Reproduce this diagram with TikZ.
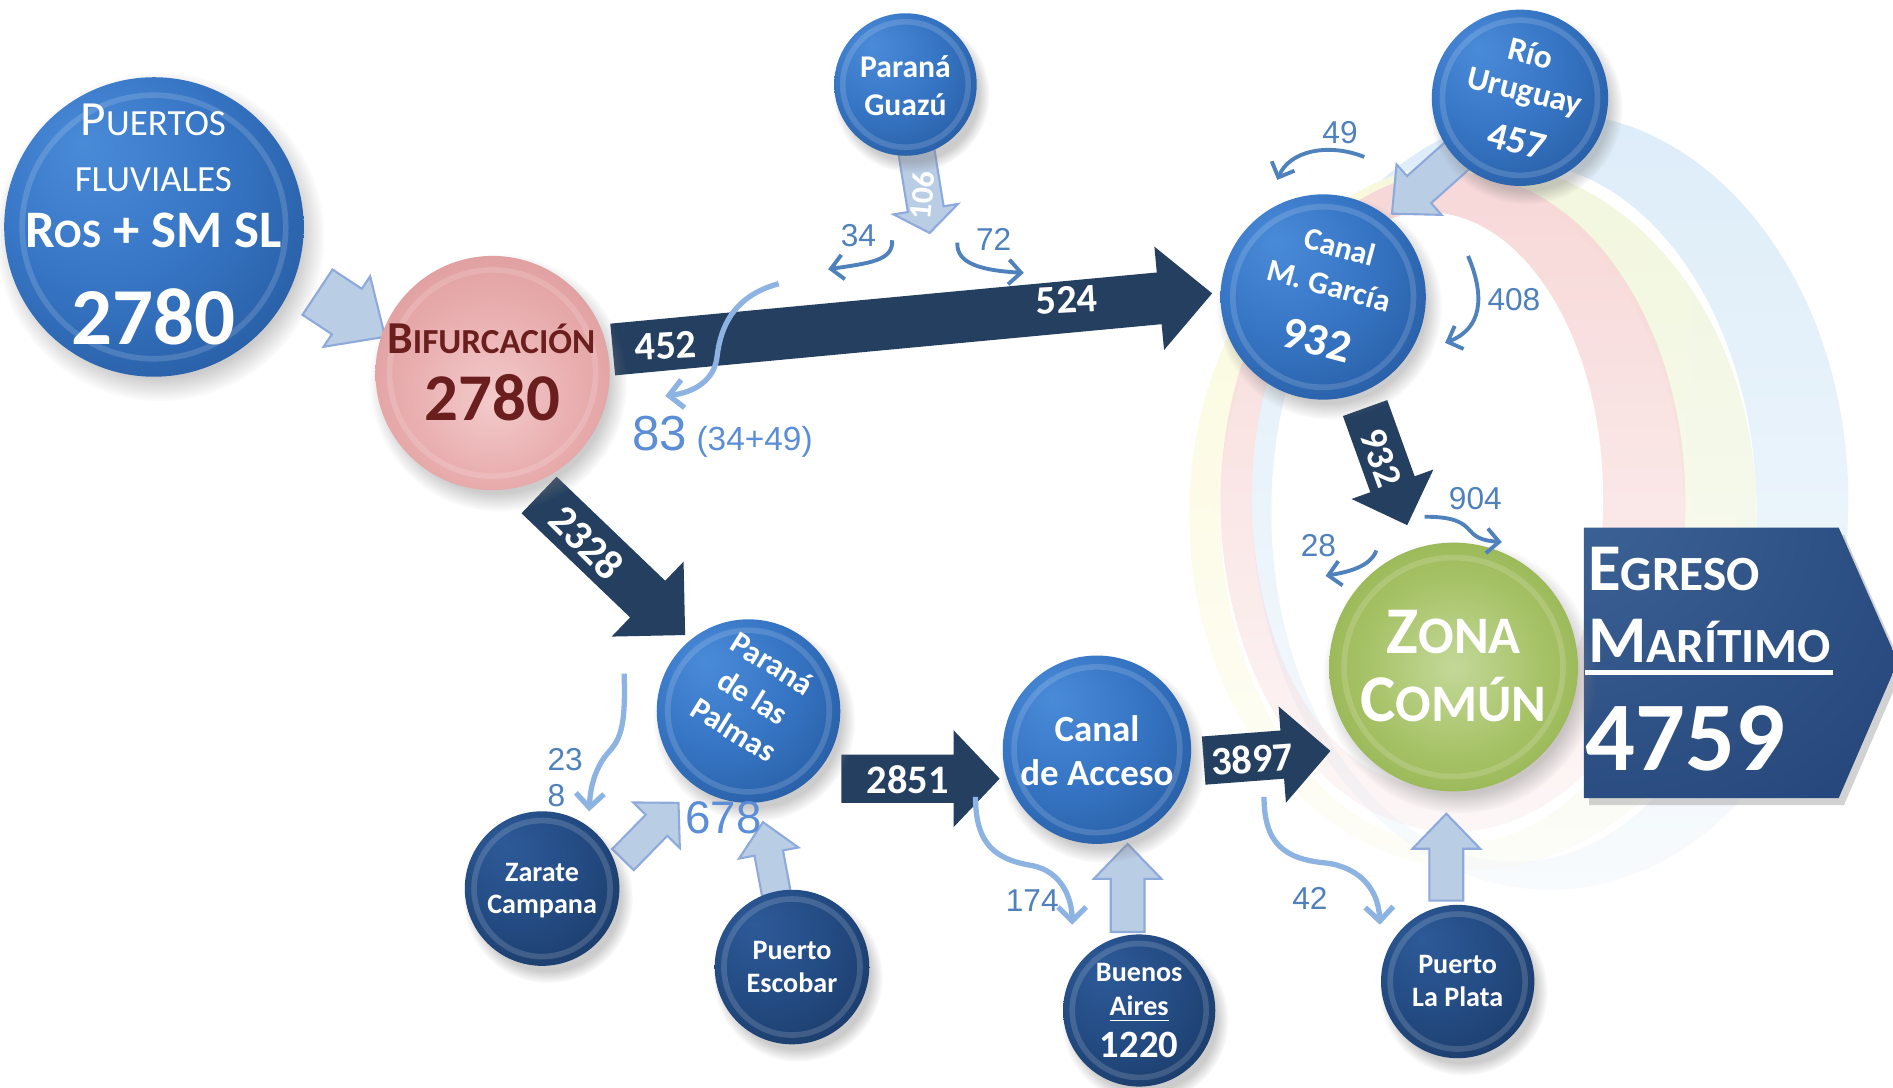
\documentclass[tikz,border=0pt]{standalone}
\usepackage{fontspec}
\setmainfont{Carlito}
\newfontfamily\arialf{Liberation Sans}
\usetikzlibrary{calc,shadows,arrows.meta,fadings}
\definecolor{navy}{HTML}{243F60}
\definecolor{lbfill}{HTML}{B9CDE5}
\definecolor{lbedge}{HTML}{8EAADB}
\definecolor{lbl}{HTML}{4F81BD}
\definecolor{lbl2}{HTML}{8DB3E2}
\definecolor{lbl3}{HTML}{5B8ED6}
\definecolor{maroon}{HTML}{6B1E1E}
\definecolor{ringblue}{HTML}{DDEDF9}
\definecolor{ringgreen}{HTML}{EFF6DF}
\definecolor{ringyellow}{HTML}{FCFADB}
\definecolor{ringpink}{HTML}{F8D8D8}
\definecolor{mb1}{HTML}{4A8BD8}\definecolor{mb2}{HTML}{3675C4}\definecolor{mb3}{HTML}{275CA2}\definecolor{mb4}{HTML}{1B4279}\definecolor{mb5}{HTML}{122B52}
\definecolor{db1}{HTML}{2D5A98}\definecolor{db2}{HTML}{244C84}\definecolor{db3}{HTML}{1B3B68}\definecolor{db4}{HTML}{122A4D}\definecolor{db5}{HTML}{0D1E3A}
\definecolor{pk1}{HTML}{F3CACA}\definecolor{pk2}{HTML}{E9AEAF}\definecolor{pk3}{HTML}{DB9697}\definecolor{pk4}{HTML}{C97D7F}\definecolor{pk5}{HTML}{9E5052}
\definecolor{gr1}{HTML}{C3D898}\definecolor{gr2}{HTML}{A6C266}\definecolor{gr3}{HTML}{8FAE4A}\definecolor{gr4}{HTML}{789536}\definecolor{gr5}{HTML}{5A7522}
\definecolor{eg1}{HTML}{42699C}\definecolor{eg2}{HTML}{25467A}\definecolor{eg3}{HTML}{152C4F}
\pgfdeclareradialshading{sphMB}{\pgfpoint{-12bp}{14bp}}{color(0bp)=(mb1); color(20bp)=(mb2); color(38bp)=(mb3); color(56bp)=(mb4); color(70bp)=(mb5)}
\pgfdeclareradialshading{sphDB}{\pgfpoint{-12bp}{14bp}}{color(0bp)=(db1); color(20bp)=(db2); color(38bp)=(db3); color(56bp)=(db4); color(70bp)=(db5)}
\pgfdeclareradialshading{sphPK}{\pgfpoint{0bp}{-6bp}}{color(0bp)=(pk1); color(18bp)=(pk2); color(36bp)=(pk3); color(50bp)=(pk4); color(62bp)=(pk5)}
\pgfdeclareradialshading{sphGR}{\pgfpoint{0bp}{0bp}}{color(0bp)=(gr1); color(18bp)=(gr2); color(36bp)=(gr3); color(48bp)=(gr4); color(60bp)=(gr5)}
\pgfdeclareradialshading{egr}{\pgfpoint{-40bp}{40bp}}{color(0bp)=(eg1); color(60bp)=(eg2); color(120bp)=(eg3)}
\tikzfading[name=ringfade, top color=transparent!0, bottom color=transparent!80]
\newcommand\fs[1]{\fontsize{#1pt}{#1pt}\selectfont}
\newcommand\sph[5]{%
  \pgfmathsetlengthmacro\sphd{2*#4*0.34351pt}%
  \pgfmathsetlengthmacro\sphr{0.88*#4*0.34351pt}%
  \node[sphere, minimum size=\sphd, shading=#5,
    path picture={\draw[white,opacity=.15,line width=1.6pt] (path picture bounding box.center) circle[radius=\sphr];}] (#1) at (#2,#3) {};}
\newcommand\barrow[6][]{%
  \coordinate (bas) at (#2); \coordinate (bae) at (#3);
  \coordinate (bah) at ($(bae)!#6*0.34351pt!(bas)$);
  \path[#1] ($(bas)!#4*0.34351pt!90:(bae)$) -- ($(bah)!#4*0.34351pt!-90:(bas)$)
    -- ($(bah)!#5*0.34351pt!-90:(bas)$) -- (bae) -- ($(bah)!#5*0.34351pt!90:(bas)$)
    -- ($(bah)!#4*0.34351pt!90:(bas)$) -- ($(bas)!#4*0.34351pt!-90:(bae)$) -- cycle;}
\begin{document}
\begin{tikzpicture}[x=0.012073cm,y=-0.012073cm,
  wt/.style={text=white,font=\bfseries,inner sep=0pt,anchor=base},
  bl/.style={text=lbl,font=\arialf,inner sep=0pt},
  thinarr/.style={draw=lbl,line width=1.1pt,-{Straight Barb[length=3.5pt,width=7pt]}},
  lightarr/.style={draw=lbl2,line width=1.5pt,-{Straight Barb[length=4pt,width=8pt]}},
  navyarr/.style={fill=navy},
  lbarr/.style={fill=lbfill,draw=lbedge,line width=0.6pt},
  ring/.style={even odd rule,path fading=ringfade},
  sphere/.style={circle,inner sep=0pt,circular drop shadow={shadow xshift=1.5pt,shadow yshift=-2.5pt,opacity=.4}}]
\useasboundingbox (0,0) rectangle (1568,901);
\fill[white] (0,0) rectangle (1568,901);
% background rings
\fill[ringblue, ring] (1284,415) ellipse (247 and 322) (1254,424) ellipse (201 and 290);
\shade[ring, left color=ringyellow, right color=ringgreen] (1220,427) ellipse (235 and 293) (1203,425) ellipse (192 and 275);
\fill[ringpink, ring] (1203.5,416) ellipse (192.5 and 273) (1182.5,413) ellipse (145.5 and 237);
% arrow end points
\coordinate (lpS) at (263,242);   \coordinate (lpE) at (319,279);
\coordinate (lgS) at (759,125);   \coordinate (lgE) at (770,193);
\coordinate (luS) at (1217,120);  \coordinate (luE) at (1153,177);
\coordinate (lzS) at (516,712);   \coordinate (lzE) at (562,665);
\coordinate (leS) at (643,740);   \coordinate (leE) at (632,681);
\coordinate (lbS) at (934,772);   \coordinate (lbE) at (934,699);
\coordinate (llS) at (1198,746);  \coordinate (llE) at (1198,674);
\coordinate (nbS) at (507.5,289.5); \coordinate (nbE) at (1004,243);
\coordinate (npS) at (446.5,410); \coordinate (npE) at (567.5,526);
\coordinate (nmS) at (1130.7,338); \coordinate (nmE) at (1165.6,435);
\coordinate (naS) at (697,645);   \coordinate (naE) at (828,645);
\coordinate (nzS) at (997,630);   \coordinate (nzE) at (1102,622);
% light block arrows
\barrow[lbarr]{lpS}{lpE}{22.5}{35}{38}
\barrow[lbarr]{lgS}{lgE}{15}{27}{20}
\barrow[lbarr]{luS}{luE}{15}{28}{30}
\barrow[lbarr]{lzS}{lzE}{12.5}{27}{26}
\barrow[lbarr]{leS}{leE}{12}{25}{26}
\barrow[lbarr]{lbS}{lbE}{14}{28}{29}
\barrow[lbarr]{llS}{llE}{14}{28}{29}
% navy block arrows
\barrow[navyarr]{nbS}{nbE}{21.5}{43}{44}
\barrow[navyarr]{npS}{npE}{21}{43}{43}
\barrow[navyarr]{nmS}{nmE}{19.5}{36}{36}
\barrow[navyarr]{naS}{naE}{20}{40}{38}
\barrow[navyarr]{nzS}{nzE}{20}{40}{40}
% egreso box
\shade[shading=egr, drop shadow={shadow xshift=1.5pt,shadow yshift=-2pt,opacity=.35}]
  (1312,437) -- (1523,437) -- (1572,548) -- (1523,661) -- (1312,661) -- cycle;
% spheres
\sph{puertos}{127.5}{188}{124}{sphMB}
\sph{bif}{408}{309}{97}{sphPK}
\sph{guazu}{750}{70}{59}{sphMB}
\sph{garcia}{1096}{246}{85}{sphMB}
\sph{uruguay}{1259}{81}{73}{sphMB}
\sph{palmas}{620}{589}{76}{sphMB}
\sph{zarate}{449}{736}{64}{sphDB}
\sph{escobar}{656}{801}{64}{sphDB}
\sph{acceso}{908.6}{621}{78}{sphMB}
\sph{baires}{943.6}{837}{63}{sphDB}
\sph{laplata}{1207.4}{813}{63.5}{sphDB}
\sph{zona}{1204}{552.5}{103}{sphGR}
% texts in spheres
\node[wt,font=\mdseries] (tp1) at (127,112) {{\fs{14}P}{\fs{10.5}UERTOS}};
\node[wt,font=\mdseries] (tp2) at (127,159) {\fs{10.5}FLUVIALES};
\node[wt] (tp3) at (127,205) {{\fs{15}R}{\fs{11.5}OS}{\fs{15} + SM SL}};
\node[wt] (tp4) at (127,285) {\fs{23}2780};
\node[wt,text=maroon] (tb1) at (407,293) {{\fs{13}B}{\fs{10}IFURCACIÓN}};
\node[wt,text=maroon] (tb2) at (408,348) {\fs{19}2780};
\node[wt] (tg1) at (750,64) {\fs{9}Paraná};
\node[wt] (tg2) at (750,96) {\fs{9}Guazú};
\node[wt,rotate=-14] (tu1) at (1266,53) {\fs{9.5}Río};
\node[wt,rotate=-14] (tu2) at (1261,84) {\fs{9.5}Uruguay};
\node[wt,rotate=-14] (tu3) at (1254,127) {\fs{11}457};
\node[wt,rotate=-15] (tc1) at (1107.6,213) {\fs{9}Canal};
\node[wt,rotate=-15] (tc2) at (1098.4,245) {\fs{9}M. García};
\node[wt,rotate=-15] (tc3) at (1087.4,294) {\fs{13}932};
\node[wt,rotate=-32] (tl1) at (635,557) {\fs{9}Paraná};
\node[wt,rotate=-32] (tl2) at (619,585) {\fs{9}de las};
\node[wt,rotate=-32] (tl3) at (603,612) {\fs{9}Palmas};
\node[wt] (tz1) at (449,730) {\fs{8}Zarate};
\node[wt] (tz2) at (449,757) {\fs{8}Campana};
\node[wt] (te1) at (656,795) {\fs{8}Puerto};
\node[wt] (te2) at (656,822) {\fs{8}Escobar};
\node[wt] (ta1) at (908.6,614) {\fs{10.5}Canal};
\node[wt] (ta2) at (908.6,651) {\fs{10.5}de Acceso};
\node[wt] (tba1) at (943.6,813) {\fs{8}Buenos};
\node[wt] (tba2) at (943.6,841) {\fs{8}\underline{Aires}};
\node[wt] (tba3) at (943.6,876) {\fs{11}1220};
\node[wt] (tlp1) at (1207.4,806) {\fs{8}Puerto};
\node[wt] (tlp2) at (1207.4,834) {\fs{8}La Plata};
\node[wt] (tzc1) at (1204,541) {{\fs{19}Z}{\fs{15}ONA}};
\node[wt] (tzc2) at (1204,598) {{\fs{19}C}{\fs{15}OMÚN}};
\node[wt,anchor=base west] (teg1) at (1315,489) {{\fs{19}E}{\fs{14}GRESO}};
\node[wt,anchor=base west] (teg2) at (1315,549) {{\fs{19}M}{\fs{14}ARÍTIMO}};
\draw[white,line width=1.2pt] (1313,557) -- (1518,557);
\node[wt,anchor=base west] (teg3) at (1313,638) {\fs{28}4759};
% labels on block arrows
\node[wt,rotate=3] (n452) at (552,297) {\fs{11.5}452};
\node[wt,rotate=3] (n524) at (884,259) {\fs{11.5}524};
\node[wt,anchor=center,rotate=-45] (n2328) at (486,449) {\fs{12}2328};
\node[wt,anchor=center,rotate=-70] (n932) at (1144,379) {\fs{11}932};
\node[wt] (n2851) at (752,657) {\fs{11.5}2851};
\node[wt,rotate=4] (n3897) at (1038,640) {\fs{11.5}3897};
\node[wt,anchor=center,rotate=85] (n106) at (764,162) {\fs{9}106};
% thin flow arrows
\coordinate (c34s) at (739,199);  \coordinate (c34e) at (686,223);
\coordinate (c72s) at (793,201);  \coordinate (c72e) at (848,226);
\coordinate (c49s) at (1130,130); \coordinate (c49e) at (1058,149);
\coordinate (c408s) at (1216,212); \coordinate (c408e) at (1197,284);
\coordinate (c904s) at (1180,428); \coordinate (c904e) at (1244,449);
\coordinate (c28s) at (1140,456); \coordinate (c28e) at (1098,477);
\coordinate (c83s) at (645,235);  \coordinate (c83e) at (551,328);
\coordinate (c238s) at (517,558); \coordinate (c238e) at (488,672);
\coordinate (c174s) at (808,660); \coordinate (c174e) at (888,766);
\coordinate (c42s) at (1047,660); \coordinate (c42e) at (1143,766);
\draw[thinarr] (c34s) .. controls (740,216) and (720,218) .. (c34e);
\draw[thinarr] (c72s) .. controls (792,218) and (812,224) .. (c72e);
\draw[thinarr] (c49s) .. controls (1100,118) and (1068,125) .. (c49e);
\draw[thinarr] (c408s) .. controls (1230,245) and (1228,272) .. (c408e);
\draw[thinarr] (c904s) .. controls (1205,428) and (1212,433) .. (1218,440) .. controls (1224,447) and (1232,448) .. (c904e);
\draw[thinarr] (c28s) .. controls (1135,470) and (1115,474) .. (c28e);
\draw[lightarr] (c83s) .. controls (608,245) and (597,270) .. (594,295) .. controls (592,315) and (575,325) .. (c83e);
\draw[lightarr] (c238s) .. controls (518,595) and (516,610) .. (505,622) .. controls (494,634) and (489,650) .. (c238e);
\draw[lightarr] (c174s) .. controls (808,700) and (825,712) .. (855,717) .. controls (880,722) and (888,745) .. (c174e);
\draw[lightarr] (c42s) .. controls (1047,700) and (1065,712) .. (1100,715) .. controls (1130,720) and (1142,740) .. (c42e);
% blue labels
\node[bl] (l34) at (711,195) {\fs{9}34};
\node[bl] (l72) at (823,198) {\fs{9}72};
\node[bl] (l49) at (1110,110) {\fs{9}49};
\node[bl] (l408) at (1254,248) {\fs{9}408};
\node[bl] (l904) at (1222,413) {\fs{9}904};
\node[bl] (l28) at (1092,452) {\fs{9}28};
\node[bl,text=lbl3,anchor=base west] (l83) at (523,373) {{\fs{14}83} {\fs{9.5}(34+49)}};
\node[bl,anchor=base west] (l23) at (453,638) {\fs{9}23};
\node[bl,anchor=base west] (l8) at (453,668) {\fs{9}8};
\node[bl,text=lbl3,anchor=base west] (l678) at (567,690) {\fs{13}678};
\node[bl] (l174) at (855,746) {\fs{9}174};
\node[bl] (l42) at (1085,744) {\fs{9}42};
\end{tikzpicture}
\end{document}
